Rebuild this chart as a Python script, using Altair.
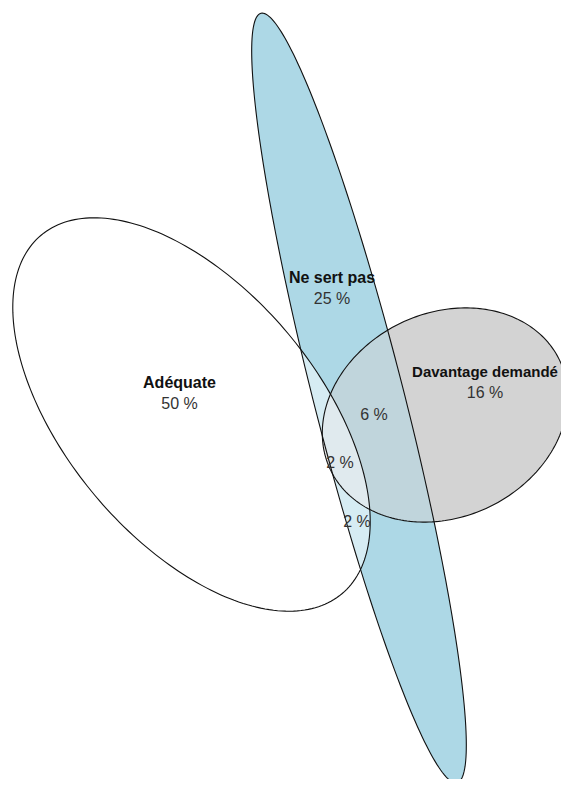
import altair as alt
import numpy as np
import pandas as pd

# ---- data (Euler diagram; units = picture pixels) ----
sets = ["Adéquate", "Ne sert pas", "Davantage demandé"]
set_share = ["50 %", "25 %", "16 %"]
center_x = [191.5, 359.0, 445.0]
center_y = [414.5, 398.0, 415.0]
semi_major = [234.0, 397.0, 127.0]
semi_minor = [126.0, 45.0, 102.0]
tilt_deg = [50.0, 75.7, -25.6]

set_label_x = [179.5, 332.0, 485.0]
set_label_y = [388.0, 283.0, 377.0]
set_label_size = [16, 16, 15]

overlap_share = ["6 %", "2 %", "2 %"]
overlap_x = [374.0, 340.0, 357.0]
overlap_y = [420.0, 468.0, 527.0]

# ---- build ellipse outlines from their parameters ----
rows = []
t = np.linspace(0, 2 * np.pi, 241)
for name, cx, cy, a, b, ang in zip(sets, center_x, center_y, semi_major, semi_minor, tilt_deg):
    p = np.deg2rad(ang)
    xs = cx + a * np.cos(p) * np.cos(t) - b * np.sin(p) * np.sin(t)
    ys = cy + a * np.sin(p) * np.cos(t) + b * np.cos(p) * np.sin(t)
    for i, (x, y) in enumerate(zip(xs, ys)):
        rows.append({"set": name, "i": i, "x": float(x), "y": float(y)})
shapes = pd.DataFrame(rows)

labels = pd.DataFrame({"text": sets, "x": set_label_x, "y": set_label_y, "size": set_label_size})
shares = pd.DataFrame({"text": set_share, "x": set_label_x, "y": [v + 21 for v in set_label_y]})
overlaps = pd.DataFrame({"text": overlap_share, "x": overlap_x, "y": overlap_y})

W, H = 553, 771
xscale = alt.Scale(domain=[8, 8 + W], nice=False, zero=False)
yscale = alt.Scale(domain=[8, 8 + H], nice=False, zero=False, reverse=True)


def shape(name):
    return alt.Chart(shapes).transform_filter(alt.datum.set == name).encode(
        x=alt.X("x:Q", scale=xscale, axis=None),
        y=alt.Y("y:Q", scale=yscale, axis=None),
        order="i:Q",
        detail="set:N",
    )


blue_fill = shape("Ne sert pas").mark_line(fill="#ADD8E6", strokeOpacity=0)
grey_fill = shape("Davantage demandé").mark_line(fill="#D3D3D3", strokeOpacity=0)
blue_mix = shape("Ne sert pas").mark_line(fill="#ADD8E6", fillOpacity=0.5, strokeOpacity=0)
white_mix = shape("Adéquate").mark_line(fill="#FFFFFF", fillOpacity=0.5, strokeOpacity=0)

outlines = alt.Chart(shapes).mark_line(color="#111111", strokeWidth=1.1).encode(
    x=alt.X("x:Q", scale=xscale, axis=None),
    y=alt.Y("y:Q", scale=yscale, axis=None),
    order="i:Q",
    detail="set:N",
)

font = "Liberation Sans"

bold_labels = alt.Chart(labels).mark_text(
    font=font, fontWeight="bold", align="center", baseline="alphabetic", color="#111111",
).encode(
    x=alt.X("x:Q", scale=xscale, axis=None),
    y=alt.Y("y:Q", scale=yscale, axis=None),
    text="text:N",
    size=alt.Size("size:Q", scale=None, legend=None),
)


def texts(df, color):
    return alt.Chart(df).mark_text(
        font=font, fontSize=16, align="center", baseline="alphabetic", color=color,
    ).encode(
        x=alt.X("x:Q", scale=xscale, axis=None),
        y=alt.Y("y:Q", scale=yscale, axis=None),
        text="text:N",
    )


chart = alt.layer(
    blue_fill, grey_fill, blue_mix, white_mix, outlines,
    bold_labels,
    texts(shares, "#333333"),
    texts(overlaps, "#333333"),
).properties(
    width=W, height=H,
    autosize=alt.AutoSizeParams(type="none"),
    padding=0,
).configure_view(stroke="transparent")

chart.save("out.html", embed_options={"renderer": "svg", "actions": False})
